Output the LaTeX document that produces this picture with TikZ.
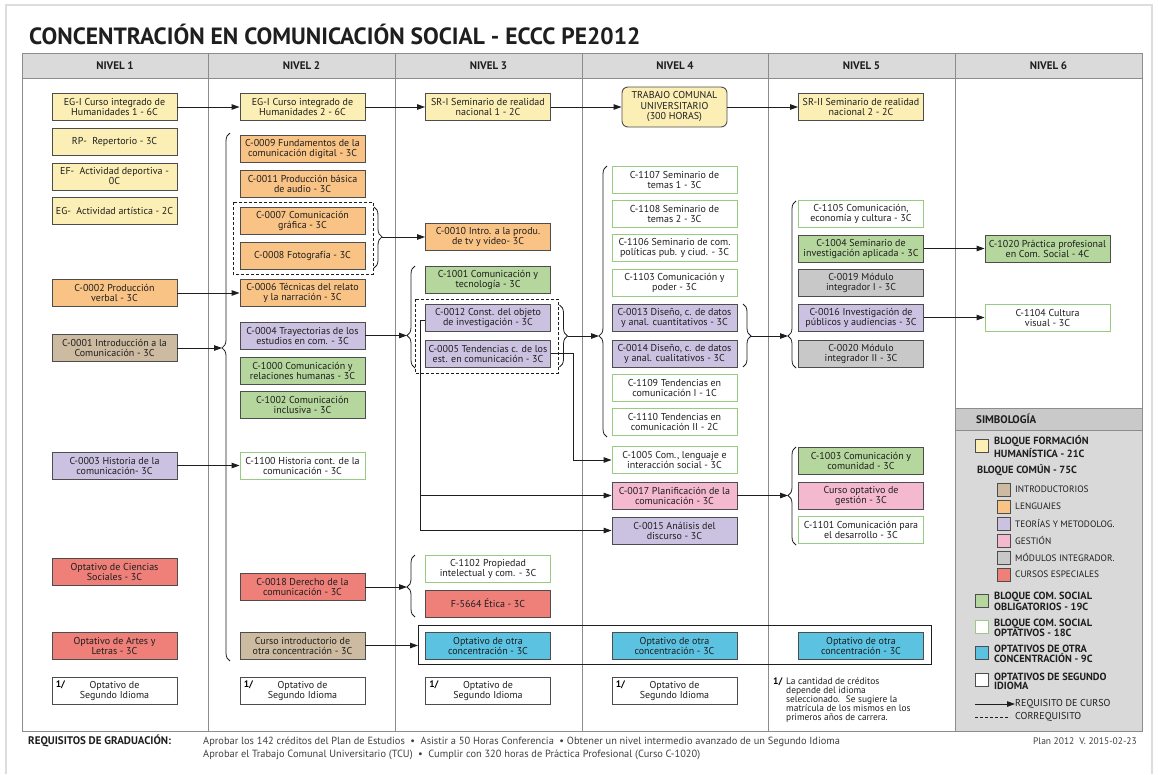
\documentclass[tikz,border=0pt]{standalone}
\usepackage{fontspec}
\setmainfont{PT Sans}
\usetikzlibrary{arrows.meta,decorations.pathreplacing,calc}
\definecolor{cyel}{HTML}{FCEFB5}
\definecolor{cora}{HTML}{F9C385}
\definecolor{ctan}{HTML}{CDBBA1}
\definecolor{cpur}{HTML}{CBC2E1}
\definecolor{cgrn}{HTML}{B5D69D}
\definecolor{cgrnb}{HTML}{98CB7F}
\definecolor{cred}{HTML}{EE7F79}
\definecolor{cpnk}{HTML}{F5B9CF}
\definecolor{cgry}{HTML}{C8C8C9}
\definecolor{cblu}{HTML}{5BC3E1}
\definecolor{chead}{HTML}{DADADA}
\definecolor{clegh}{HTML}{C9C9C9}
\definecolor{cleg}{HTML}{D9D9D9}
\definecolor{cbdr}{HTML}{4D4D4D}
\definecolor{cline}{HTML}{8C8C8C}
\definecolor{cframe}{HTML}{DDDDDD}
\definecolor{cink}{HTML}{1E1E1E}
\begin{document}
\begin{tikzpicture}[x=1pt,y=-1pt,
  box/.style={draw=cbdr, line width=0.9pt, minimum width=125pt, minimum height=27pt, inner sep=0pt, align=center, font=\fontsize{10}{10}\selectfont, text=cink},
  byel/.style={box, fill=cyel},
  bora/.style={box, fill=cora},
  btan/.style={box, fill=ctan},
  bpur/.style={box, fill=cpur},
  bgrn/.style={box, fill=cgrn},
  bopt/.style={box, fill=white, draw=cgrnb},
  bred/.style={box, fill=cred},
  bpnk/.style={box, fill=cpnk},
  bgry/.style={box, fill=cgry},
  bblu/.style={box, fill=cblu},
  bwht/.style={box, fill=white},
  onenote/.style={anchor=north west, inner sep=0pt, font=\bfseries\fontsize{9.5}{10}\selectfont},
  arr/.style={draw=cink, line width=0.9pt, -{Triangle[length=8pt,width=5.5pt]}},
  ln/.style={draw=cink, line width=0.9pt},
  brc/.style={draw=cink, line width=0.8pt, decorate, decoration={brace, amplitude=8pt, aspect=#1}},
  dsh/.style={draw=cink, line width=1pt, dash pattern=on 3pt off 2pt},
  hdr/.style={font=\bfseries\fontsize{11}{12}\selectfont, text=cink},
  legb/.style={anchor=west, align=left, inner sep=0pt, font=\bfseries\fontsize{10.4}{8.8}\selectfont, text=cink},
  legr/.style={anchor=west, align=left, inner sep=0pt, font=\fontsize{9.3}{9}\selectfont, text=cink},
  sw/.style={draw=cbdr, line width=0.8pt, minimum width=13pt, minimum height=13pt, inner sep=0pt},
]
\useasboundingbox (0,0) rectangle (1158,774);
\fill[white] (0,0) rectangle (1158,774);
% page frame
\draw[cframe, line width=1.2pt] (6,774) -- (6,5) -- (1152,5) -- (1152,774);
% title
\node[anchor=base west, inner sep=0pt, font=\bfseries\fontsize{23.5}{25}\selectfont, text=cink] (title) at (29,44) {CONCENTRACIÓN EN COMUNICACIÓN SOCIAL - ECCC PE2012};
% table background
\fill[chead] (22,53) rectangle (1142,78);
\fill[cleg] (955,408) rectangle (1142,731);
\fill[clegh] (955,408) rectangle (1142,430);
\draw[cline, line width=0.8pt] (955,408) -- (1142,408) (955,430) -- (1142,430);
\draw[cline, line width=0.9pt] (22,53) rectangle (1142,731);
\draw[cline, line width=0.9pt] (22,78) -- (1142,78);
\foreach \xx in {208,395,582,768,955} \draw[cline, line width=0.9pt] (\xx,53) -- (\xx,731);
\node[hdr] (h1) at (115,66) {NIVEL 1};
\node[hdr] (h2) at (301.5,66) {NIVEL 2};
\node[hdr] (h3) at (488.5,66) {NIVEL 3};
\node[hdr] (h4) at (675,66) {NIVEL 4};
\node[hdr] (h5) at (861.5,66) {NIVEL 5};
\node[hdr] (h6) at (1048.5,66) {NIVEL 6};

% dashed groups
\draw[dsh] (233,202) rectangle (373,274);
\draw[dsh] (415,299) rectangle (558,373);
% optativos rectangle
\draw[cink, line width=1pt] (418,625) rectangle (931,664);

% NIVEL 1
\node[byel] (eg1) at (114.5,107) {EG-I Curso integrado de\\Humanidades 1 - 6C};
\node[byel] (rp) at (114.5,141.5) {RP- \ Repertorio - 3C};
\node[byel] (ef) at (114.5,176.5) {EF- \ Actividad deportiva -\\0C};
\node[byel] (ega) at (114.5,211) {EG- \ Actividad artística - 2C};
\node[bora] (c0002) at (114.5,293) {C-0002 Producción\\verbal - 3C};
\node[btan] (c0001) at (114.5,348) {C-0001 Introducción a la\\Comunicación - 3C};
\node[bpur] (c0003) at (114.5,465.5) {C-0003 Historia de la\\comunicación- 3C};
\node[bred] (ocs) at (114.5,572) {Optativo de Ciencias\\Sociales - 3C};
\node[bred] (oal) at (114.5,645.5) {Optativo de Artes y\\Letras - 3C};
\node[bwht] (si1) at (114.5,691) {Optativo de\\Segundo Idioma};
\node[onenote] (si1n) at ($(si1.north west)+(4,3)$) {1/};

% NIVEL 2
\node[byel] (eg2) at (302.5,107) {EG-I Curso integrado de\\Humanidades 2 - 6C};
\node[bora] (c0009) at (302.5,148.5) {C-0009 Fundamentos de la\\comunicación digital - 3C};
\node[bora] (c0011) at (302.5,183.5) {C-0011 Producción básica\\de audio - 3C};
\node[bora] (c0007) at (302.5,221) {C-0007 Comunicación\\gráfica - 3C};
\node[bora] (c0008) at (302.5,256) {C-0008 Fotografía - 3C};
\node[bora] (c0006) at (302.5,293) {C-0006 Técnicas del relato\\y la narración - 3C};
\node[bpur] (c0004) at (302.5,335.5) {C-0004 Trayectorias de los\\estudios en com. - 3C};
\node[bgrn] (c1000) at (302.5,370.5) {C-1000 Comunicación y\\relaciones humanas - 3C};
\node[bgrn] (c1002) at (302.5,405) {C-1002 Comunicación\\inclusiva - 3C};
\node[bopt] (c1100) at (302.5,465.5) {C-1100 Historia cont. de la\\comunicación - 3C};
\node[bred] (c0018) at (302.5,587) {C-0018 Derecho de la\\comunicación - 3C};
\node[btan] (cio) at (302.5,645.5) {Curso introductorio de\\otra concentración - 3C};
\node[bwht] (si2) at (302.5,691) {Optativo de\\Segundo Idioma};
\node[onenote] (si2n) at ($(si2.north west)+(4,3)$) {1/};

% NIVEL 3
\node[byel] (sr1) at (488,107) {SR-I Seminario de realidad\\nacional 1 - 2C};
\node[bora] (c0010) at (488,237) {C-0010 Intro. a la produ.\\de tv y video- 3C};
\node[bgrn] (c1001) at (488,279.5) {C-1001 Comunicación y\\tecnología - 3C};
\node[bpur] (c0012) at (488,317.5) {C-0012 Const. del objeto\\de investigación - 3C};
\node[bpur] (c0005) at (488,353.5) {C-0005 Tendencias c. de los\\est. en comunicación - 3C};
\node[bopt] (c1102) at (488,568.5) {C-1102 Propiedad\\intelectual y com. - 3C};
\node[bred] (f5664) at (488,603.5) {F-5664 Ética - 3C};
\node[bblu] (oc3) at (488,645.5) {Optativo de otra\\concentración - 3C};
\node[bwht] (si3) at (488,691) {Optativo de\\Segundo Idioma};
\node[onenote] (si3n) at ($(si3.north west)+(4,3)$) {1/};

% NIVEL 4
\node[byel, rounded corners=6pt, minimum width=105pt, minimum height=40pt, font=\fontsize{10}{10.5}\selectfont] (tcu) at (674.5,107) {TRABAJO COMUNAL\\UNIVERSITARIO\\(300 HORAS)};
\node[bopt] (c1107) at (674.5,179.5) {C-1107 Seminario de\\temas 1 - 3C};
\node[bopt] (c1108) at (674.5,213.5) {C-1108 Seminario de\\temas 2 - 3C};
\node[bopt] (c1106) at (674.5,248) {C-1106 Seminario de com.\\políticas pub. y ciud. - 3C};
\node[bopt] (c1103) at (674.5,282.5) {C-1103 Comunicación y\\poder - 3C};
\node[bpur] (c0013) at (674.5,317.5) {C-0013 Diseño, c. de datos\\y anal. cuantitativos - 3C};
\node[bpur] (c0014) at (674.5,353.5) {C-0014 Diseño, c. de datos\\y anal. cualitativos - 3C};
\node[bopt] (c1109) at (674.5,388) {C-1109 Tendencias en\\comunicación I - 1C};
\node[bopt] (c1110) at (674.5,422) {C-1110 Tendencias en\\comunicación II - 2C};
\node[bopt] (c1005) at (674.5,460) {C-1005 Com., lenguaje e\\interacción social - 3C};
\node[bpnk] (c0017) at (674.5,495.5) {C-0017 Planificación de la\\comunicación - 3C};
\node[bpur] (c0015) at (674.5,530.5) {C-0015 Análisis del\\discurso - 3C};
\node[bblu] (oc4) at (674.5,645.5) {Optativo de otra\\concentración - 3C};
\node[bwht] (si4) at (674.5,691) {Optativo de\\Segundo Idioma};
\node[onenote] (si4n) at ($(si4.north west)+(4,3)$) {1/};

% NIVEL 5
\node[byel] (sr2) at (861,107) {SR-II Seminario de realidad\\nacional 2 - 2C};
\node[bopt] (c1105) at (861,214) {C-1105 Comunicación,\\economía y cultura - 3C};
\node[bgrn] (c1004) at (861,248.5) {C-1004 Seminario de\\investigación aplicada - 3C};
\node[bgry] (c0019) at (861,282.5) {C-0019 Módulo\\integrador I - 3C};
\node[bpur] (c0016) at (861,317.5) {C-0016 Investigación de\\públicos y audiencias - 3C};
\node[bgry] (c0020) at (861,353.5) {C-0020 Módulo\\integrador II - 3C};
\node[bgrn] (c1003) at (861,460.5) {C-1003 Comunicación y\\comunidad - 3C};
\node[bpnk] (cog) at (861,495.5) {Curso optativo de\\gestión - 3C};
\node[bopt] (c1101) at (861,530) {C-1101 Comunicación para\\el desarrollo - 3C};
\node[bblu] (oc5) at (861,645.5) {Optativo de otra\\concentración - 3C};
\node[onenote, font=\bfseries\fontsize{9.5}{9}\selectfont] (n5n) at (773,677.5) {1/};
\node[anchor=north west, inner sep=0pt, align=left, font=\fontsize{9.4}{8.8}\selectfont, text=cink] (n5t) at (786,678) {La cantidad de créditos\\depende del idioma\\seleccionado. \ Se sugiere la\\matrícula de los mismos en los\\primeros años de carrera.};

% NIVEL 6
\node[bgrn] (c1020) at (1047.5,248.5) {C-1020 Práctica profesional\\en Com. Social - 4C};
\node[bopt] (c1104) at (1047.5,318) {C-1104 Cultura\\visual - 3C};

% braces
\draw[brc=0.593] (230,661) -- (230,133);
\draw[brc=0.49] (374,207) -- (374,268);
\draw[brc=0.319] (415,368) -- (415,266);
\draw[brc=0.5] (559.5,305) -- (559.5,367);
\draw[brc=0.484] (415,617) -- (415,555);
\draw[brc=0.373] (607,437) -- (607,166);
\draw[brc=0.508] (743,304) -- (743,367);
\draw[brc=0.192] (796,368) -- (796,201);
\draw[brc=0.505] (796,545) -- (796,447);
\coordinate (t2) at (222,348);
\coordinate (t2r) at (382,237);
\coordinate (t3) at (407,335.5);
\coordinate (t3r) at (567.5,336);
\coordinate (t3b) at (407,587);
\coordinate (t4) at (599,336);
\coordinate (t4r) at (751,336);
\coordinate (t5) at (788,336);
\coordinate (t5b) at (788,495.5);
\coordinate (ocl) at (418,645.5);
\coordinate (v1) at (420,320);
\coordinate (v2) at (573,353.5);

% connectors
\draw[arr] (eg1) -- (eg2);
\draw[arr] (eg2) -- (sr1);
\draw[arr] (sr1) -- (tcu);
\draw[arr] (tcu) -- (sr2);
\draw[arr] (c0002) -- (c0006);
\draw[arr] (c0001.east) -- (t2);
\draw[arr] (c0003) -- (c1100);
\draw[arr] (t2r) -- (t2r -| c0010.west);
\draw[arr] (c0004.east) -- (t3);
\draw[arr] (t3r) -- (t4);
\draw[arr] (t4r) -- (t5);
\draw[arr] (c0018.east) -- (t3b);
\draw[arr] (cio.east) -- (ocl);
\draw[arr] (c0017.east) -- (t5b);
\draw[arr] (c1004) -- (c1020);
\draw[arr] (c0016.east) -- (c0016.east -| c1104.west);
\draw[arr] (c0012.west |- v1) -- (v1) |- (c0015.west);
\draw[arr] (v1 |- c0017.west) -- (c0017.west);
\draw[arr] (c0005.east) -- (v2) |- (c1005.west);

% legend
\node[anchor=west, inner sep=0pt, font=\bfseries\fontsize{11}{12}\selectfont, text=cink] (simb) at (976,419) {SIMBOLOGÍA};
\node[sw, fill=cyel] (s1) at (982,446) {};
\node[legb] (l1) at (994,446.5) {BLOQUE FORMACIÓN\\HUMANÍSTICA - 21C};
\node[legb] (l2) at (977,470) {BLOQUE COMÚN - 75C};
\node[sw, fill=ctan] (s3) at (1003.5,490) {};
\node[legr] (l3) at (1015,489.5) {INTRODUCTORIOS};
\node[sw, fill=cora] (s4) at (1003.5,507) {};
\node[legr] (l4) at (1015,506.5) {LENGUAJES};
\node[sw, fill=cpur] (s5) at (1003.5,524) {};
\node[legr] (l5) at (1015,523.5) {TEORÍAS Y METODOLOG.};
\node[sw, fill=cpnk] (s6) at (1003.5,541) {};
\node[legr] (l6) at (1015,540.5) {GESTIÓN};
\node[sw, fill=cgry] (s7) at (1003.5,558) {};
\node[legr] (l7) at (1015,557.5) {MÓDULOS INTEGRADOR.};
\node[sw, fill=cred] (s8) at (1003.5,575) {};
\node[legr] (l8) at (1015,574.5) {CURSOS ESPECIALES};
\node[sw, fill=cgrn] (s9) at (982,600.5) {};
\node[legb] (l9) at (994,601.5) {BLOQUE COM. SOCIAL\\OBLIGATORIOS - 19C};
\node[sw, fill=white, draw=cgrnb] (s10) at (982,627) {};
\node[legb] (l10) at (994,628) {BLOQUE COM. SOCIAL\\OPTATIVOS - 18C};
\node[sw, fill=cblu] (s11) at (982,653) {};
\node[legb] (l11) at (994,654) {OPTATIVOS DE OTRA\\CONCENTRACIÓN - 9C};
\node[sw, fill=white] (s12) at (982,680) {};
\node[legb] (l12) at (994,681) {OPTATIVOS DE SEGUNDO\\IDIOMA};
\coordinate (la1) at (975,704);
\node[legr, font=\fontsize{10}{10}\selectfont] (l13) at (1015,704) {REQUISITO DE CURSO};
\draw[arr] (la1) -- (l13.west);
\coordinate (ld1) at (975,717);
\node[legr, font=\fontsize{10}{10}\selectfont] (l14) at (1015,717) {CORREQUISITO};
\draw[cink, line width=0.9pt, dash pattern=on 3pt off 2pt] (ld1) -- ($(l14.west)+(-5,0)$);

% bottom
\node[anchor=base west, inner sep=0pt, font=\bfseries\fontsize{11}{12}\selectfont, text=cink] (req) at (28,744) {REQUISITOS DE GRADUACIÓN:};
\node[anchor=base west, inner sep=0pt, font=\fontsize{10.4}{12}\selectfont, text=cink!85] (rq1) at (203,744) {Aprobar los 142 créditos del Plan de Estudios \ • \ Asistir a 50 Horas Conferencia \ • Obtener un nivel intermedio avanzado de un Segundo Idioma};
\node[anchor=base west, inner sep=0pt, font=\fontsize{10.4}{12}\selectfont, text=cink!85] (rq2) at (203,757) {Aprobar el Trabajo Comunal Universitario (TCU) \ • \ Cumplir con 320 horas de Práctica Profesional (Curso C-1020)};
\node[anchor=base east, inner sep=0pt, font=\fontsize{9.5}{11}\selectfont, text=cink!85] (plan) at (1137,744) {Plan 2012 \ V. 2015-02-23};
\end{tikzpicture}
\end{document}
